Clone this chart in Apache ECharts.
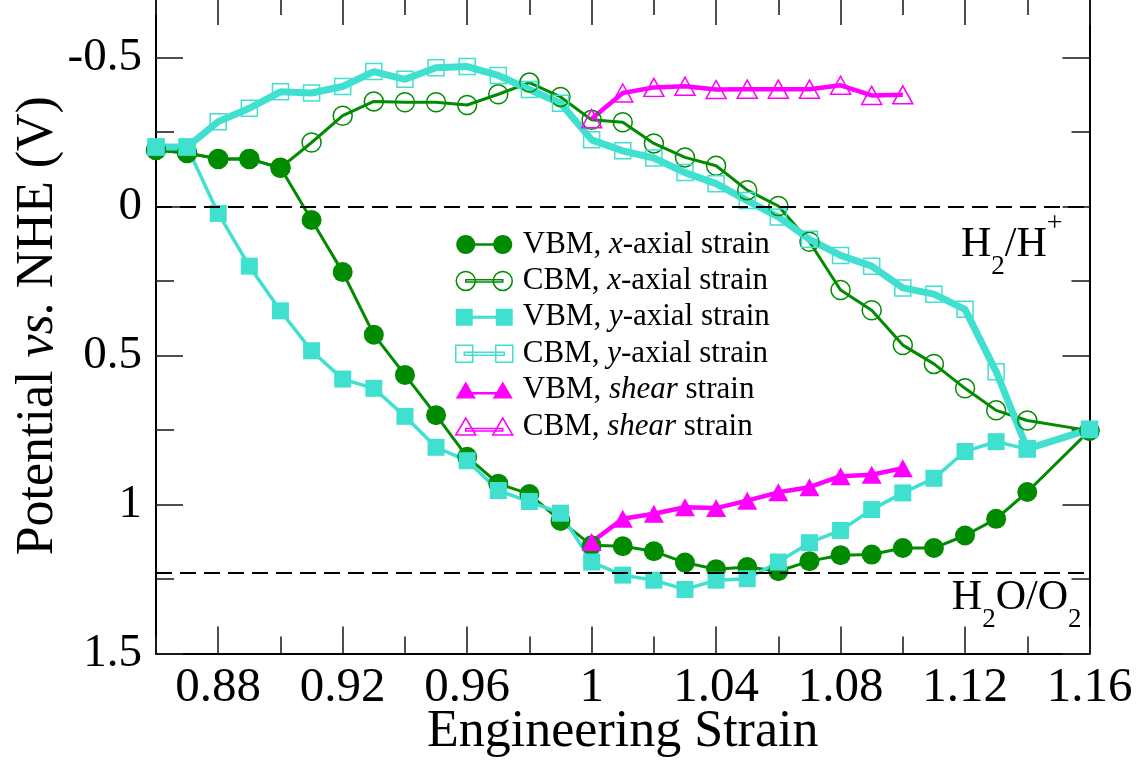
<!DOCTYPE html>
<html><head><meta charset="utf-8">
<script src="https://cdn.jsdelivr.net/npm/echarts@6/dist/echarts.min.js"></script>
<style>html,body{margin:0;padding:0;background:#fff}#c{width:1141px;height:760px}</style>
</head><body><div id="c"></div>
<script>
// ---------- data ----------
const strainAxial = [0.86,0.87,0.88,0.89,0.90,0.91,0.92,0.93,0.94,0.95,0.96,0.97,0.98,0.99,1.00,1.01,1.02,1.03,1.04,1.05,1.06,1.07,1.08,1.09,1.10,1.11,1.12,1.13,1.14,1.16];
const strainShear = [1.00,1.01,1.02,1.03,1.04,1.05,1.06,1.07,1.08,1.09,1.10];

const vbmX = [-0.19,-0.18,-0.16,-0.16,-0.13,0.045,0.22,0.43,0.565,0.70,0.84,0.93,0.965,1.055,1.137,1.14,1.157,1.195,1.217,1.21,1.224,1.19,1.17,1.168,1.146,1.146,1.104,1.048,0.958,0.752];
const cbmX = [-0.19,-0.18,-0.16,-0.16,-0.13,-0.215,-0.305,-0.353,-0.35,-0.35,-0.341,-0.377,-0.416,-0.368,-0.291,-0.283,-0.212,-0.165,-0.137,-0.055,-0.002,0.118,0.28,0.348,0.465,0.528,0.61,0.684,0.718,0.752];
const vbmY = [-0.2,-0.2,0.023,0.2,0.35,0.484,0.579,0.61,0.704,0.808,0.853,0.953,0.99,1.029,1.193,1.237,1.254,1.285,1.254,1.249,1.193,1.128,1.087,1.017,0.961,0.912,0.822,0.789,0.814,0.747];
const cbmY = [-0.2,-0.2,-0.285,-0.33,-0.385,-0.381,-0.403,-0.453,-0.427,-0.466,-0.47,-0.44,-0.393,-0.347,-0.224,-0.187,-0.163,-0.114,-0.077,-0.02,0.035,0.11,0.164,0.2,0.273,0.294,0.345,0.554,0.813,0.748];
const vbmShear = [1.126,1.048,1.031,1.009,1.012,0.987,0.959,0.942,0.905,0.9,0.878];
const cbmShear = [-0.295,-0.381,-0.4,-0.404,-0.393,-0.394,-0.394,-0.394,-0.407,-0.373,-0.375];

const seriesNames = ['VBM, x-axial strain','CBM, x-axial strain','VBM, y-axial strain','CBM, y-axial strain','VBM, shear strain','CBM, shear strain'];
const xMajorTicks = [0.88,0.92,0.96,1.00,1.04,1.08,1.12,1.16];
const xMinorTicks = [0.86,0.90,0.94,0.98,1.02,1.06,1.10,1.14];
const yMajorTicks = [-0.5,0,0.5,1,1.5];
const yMinorTicks = [-0.25,0.25,0.75,1.25];
const refLevels = [0, 1.23]; // H2/H+ and H2O/O2 potentials

// ---------- styles ----------
const FONT = 'Liberation Serif';
const GREEN = '#008b00', CYAN = '#40e0d0', MAGENTA = '#ff00ff';
const NONE = 'rgba(0,0,0,0)';

const zip = (xs, ys) => xs.map((x, i) => [x, ys[i]]);

const circleIcon = 'path://M0,0M57,20' +
  'M19.5,10C19.5,15.247 15.247,19.5 10,19.5C4.753,19.5 0.5,15.247 0.5,10C0.5,4.753 4.753,0.5 10,0.5C15.247,0.5 19.5,4.753 19.5,10Z' +
  'M56.5,10C56.5,15.247 52.247,19.5 47,19.5C41.753,19.5 37.5,15.247 37.5,10C37.5,4.753 41.753,0.5 47,0.5C52.247,0.5 56.5,4.753 56.5,10Z' +
  'M10,8.8L47,8.8L47,11.2L10,11.2Z';
const squareIcon = 'path://M0,0M57,20M0,1.5L17,1.5L17,18.5L0,18.5Z M40,1.5L57,1.5L57,18.5L40,18.5Z M8.5,8.5L48.5,8.5L48.5,11.5L8.5,11.5Z';
const triIcon = 'path://M0,0M57,20M0,18.5L10,1.5L20,18.5Z M37,18.5L47,1.5L57,18.5Z M10,12L47,12L47,14.5L10,14.5Z';

const chart = echarts.init(document.getElementById('c'), null, {renderer: 'canvas'});

function axisX(pos, ticks, len, showLine, showLabel) {
  return {
    type: 'value', position: pos, min: 0.86, max: 1.16, gridIndex: 0,
    axisLine: {show: showLine, onZero: false, lineStyle: {color: '#000', width: 2}},
    axisTick: {show: true, inside: true, length: len, customValues: ticks, lineStyle: {color: '#222', width: 1.6}},
    axisLabel: showLabel ? {show: true, customValues: ticks, fontFamily: FONT, fontSize: 49, color: '#000', margin: 10,
      formatter: v => String(+(+v).toFixed(2))} : {show: false},
    splitLine: {show: false}
  };
}
function axisY(pos, ticks, len, showLine, showLabel) {
  return {
    type: 'value', position: pos, min: -0.7, max: 1.5, inverse: true, gridIndex: 0,
    axisLine: {show: showLine, onZero: false, lineStyle: {color: '#000', width: 2}},
    axisTick: {show: true, inside: true, length: len, customValues: ticks, lineStyle: {color: '#222', width: 1.6}},
    axisLabel: showLabel ? {show: true, customValues: ticks, fontFamily: FONT, fontSize: 47, color: '#000', margin: 14,
      formatter: v => String(+(+v).toFixed(2))} : {show: false},
    splitLine: {show: false}
  };
}

const xAxes = [
  Object.assign(axisX('bottom', xMajorTicks, 27, true, true), {
    name: 'Engineering Strain', nameLocation: 'middle', nameGap: 53, nameMoveOverlap: false,
    nameTextStyle: {fontFamily: FONT, fontSize: 52, color: '#000'}
  }),
  axisX('bottom', xMinorTicks, 17, false, false),
  axisX('top', xMajorTicks, 27, true, false),
  axisX('top', xMinorTicks, 17, false, false)
];
const yAxes = [
  Object.assign(axisY('left', yMajorTicks, 27, true, true), {
    name: 'Potential {i|vs.} NHE (V)', nameLocation: 'middle', nameGap: 92, nameMoveOverlap: false,
    nameTextStyle: {fontFamily: FONT, fontSize: 52, color: '#000',
      rich: {i: {fontFamily: FONT, fontSize: 52, fontStyle: 'italic', color: '#000'}}}
  }),
  axisY('left', yMinorTicks, 18, false, false),
  axisY('right', yMajorTicks, 27, true, false),
  axisY('right', yMinorTicks, 18, false, false)
];

const labelRich = {
  m: {fontFamily: FONT, fontSize: 42, lineHeight: 71, color: '#000'},
  sub: {fontFamily: FONT, fontSize: 27, lineHeight: 26, verticalAlign: 'bottom', color: '#000'},
  sup: {fontFamily: FONT, fontSize: 28, lineHeight: 36, verticalAlign: 'top', color: '#000'}
};

const series = [
  {name: seriesNames[0], type: 'line', data: zip(strainAxial, vbmX), symbol: 'circle', symbolSize: 20,
   itemStyle: {color: GREEN}, lineStyle: {color: GREEN, width: 3},
   markLine: {silent: true, symbol: ['none','none'], animation: false,
     lineStyle: {color: '#000', type: [16, 8], width: 2},
     data: [
       {yAxis: refLevels[0], label: {show: true, position: 'insideEndBottom', distance: [27, 3],
         formatter: '{m|H}{sub|2}{m|/H}{sup|+}', rich: labelRich}},
       {yAxis: refLevels[1], label: {show: true, position: 'insideEndBottom', distance: [8, -11],
         formatter: '{m|H}{sub|2}{m|O/O}{sub|2}', rich: labelRich}}
     ]}},
  {name: seriesNames[1], type: 'line', data: zip(strainAxial, cbmX), symbol: 'circle', symbolSize: 19,
   itemStyle: {color: NONE, borderColor: GREEN, borderWidth: 1.5}, lineStyle: {color: GREEN, width: 3}},
  {name: seriesNames[2], type: 'line', data: zip(strainAxial, vbmY), symbol: 'rect', symbolSize: 17,
   itemStyle: {color: CYAN}, lineStyle: {color: CYAN, width: 3.5}},
  {name: seriesNames[3], type: 'line', data: zip(strainAxial, cbmY), symbol: 'rect', symbolSize: 16,
   itemStyle: {color: NONE, borderColor: CYAN, borderWidth: 1.5}, lineStyle: {color: CYAN, width: 7}},
  {name: seriesNames[4], type: 'line', data: zip(strainShear, vbmShear), symbol: 'triangle', symbolSize: [20, 18],
   itemStyle: {color: MAGENTA}, lineStyle: {color: MAGENTA, width: 4.5}},
  {name: seriesNames[5], type: 'line', data: zip(strainShear, cbmShear), symbol: 'triangle', symbolSize: [20, 18],
   itemStyle: {color: NONE, borderColor: MAGENTA, borderWidth: 1.5}, lineStyle: {color: MAGENTA, width: 4.5}}
].map(s => Object.assign(s, {xAxisIndex: 0, yAxisIndex: 0, clip: false, showAllSymbol: true, animation: false}));

const legendIcons = [circleIcon, circleIcon, squareIcon, squareIcon, triIcon, triIcon];
const legendStyles = [
  {color: GREEN, borderWidth: 0},
  {color: NONE, borderColor: GREEN, borderWidth: 1.5},
  {color: CYAN, borderWidth: 0},
  {color: NONE, borderColor: CYAN, borderWidth: 1.5},
  {color: MAGENTA, borderWidth: 0},
  {color: NONE, borderColor: MAGENTA, borderWidth: 1.5}
];

chart.setOption({
  animation: false,
  backgroundColor: '#fff',
  grid: {left: 156, right: 51.5, top: -2, bottom: 106.5, containLabel: false, outerBoundsMode: 'none'},
  xAxis: xAxes,
  yAxis: yAxes,
  legend: {
    orient: 'vertical', left: 455, top: 229, padding: 0, itemWidth: 57, itemHeight: 20, itemGap: 5.4,
    selectedMode: false,
    data: seriesNames.map((n, i) => ({name: n, icon: legendIcons[i], itemStyle: legendStyles[i]})),
    formatter: name => name.replace(/^(\w+), (x|y|shear)(.*)$/, '{s| }{n|$1, }{i|$2}{n|$3}'),
    textStyle: {
      fontFamily: FONT, fontSize: 31, color: '#000', lineHeight: 30,
      rich: {
        s: {width: 5, fontSize: 31, lineHeight: 30},
        n: {fontFamily: FONT, fontSize: 31, lineHeight: 30, color: '#000'},
        i: {fontFamily: FONT, fontSize: 31, lineHeight: 30, fontStyle: 'italic', color: '#000'}
      }
    }
  },
  series: series
});
</script>
</body></html>
